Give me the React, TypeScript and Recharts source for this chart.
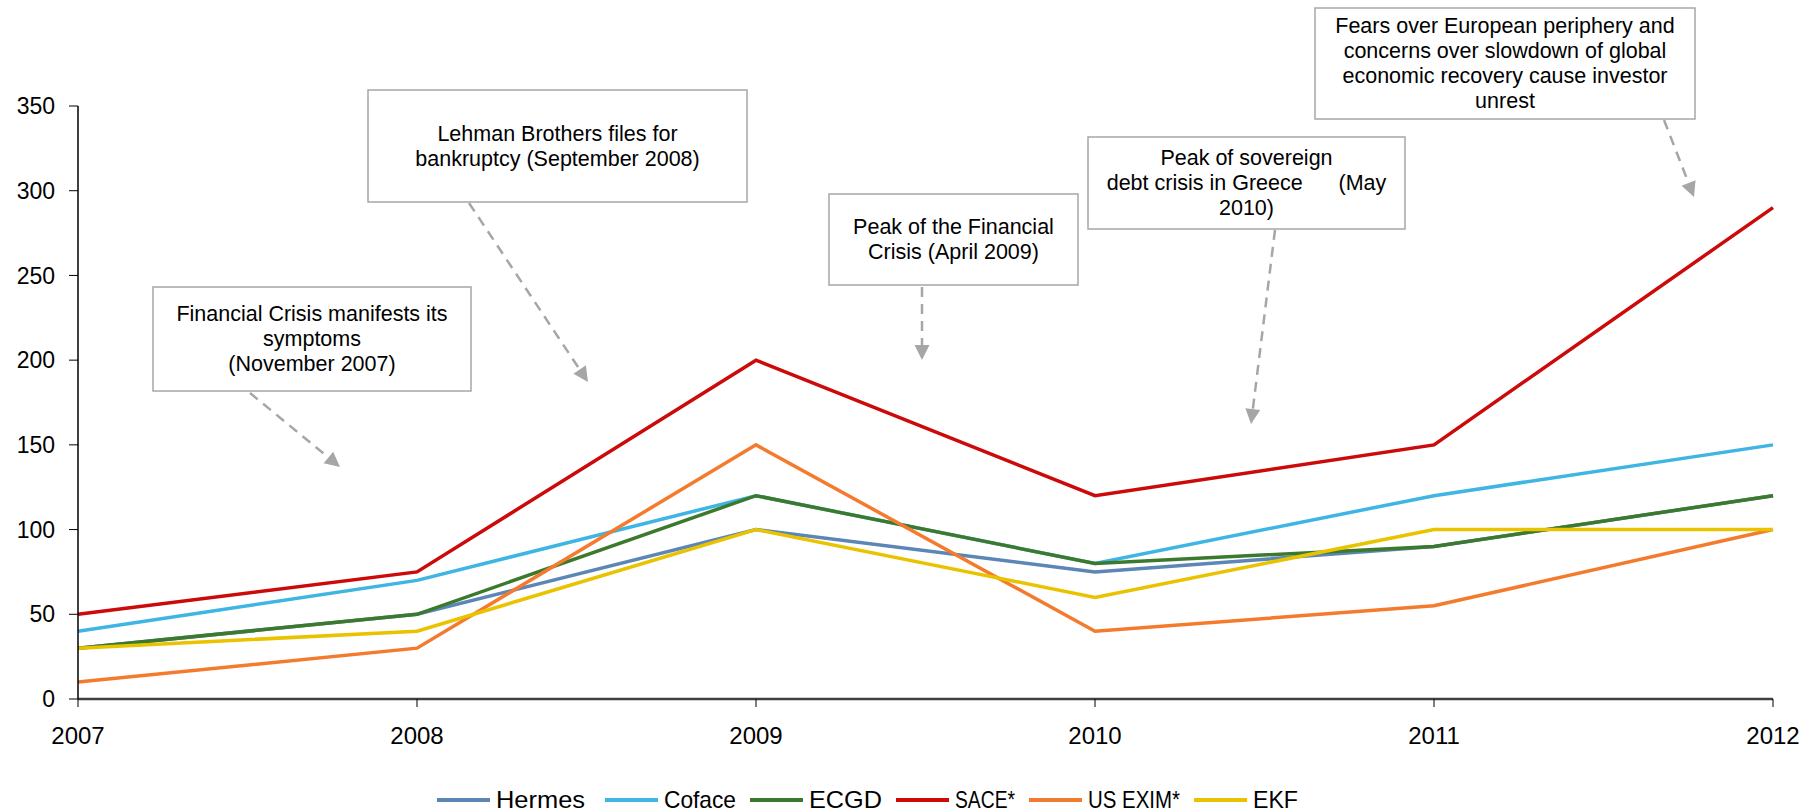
import React from "react";
import { LineChart, Line, XAxis, YAxis, Legend } from "recharts";

const years = ["2007", "2008", "2009", "2010", "2011", "2012"];
const hermes = [30, 50, 100, 75, 90, 120];
const coface = [40, 70, 120, 80, 120, 150];
const ecgd = [30, 50, 120, 80, 90, 120];
const sace = [50, 75, 200, 120, 150, 290];
const usExim = [10, 30, 150, 40, 55, 100];
const ekf = [30, 40, 100, 60, 100, 100];
const yTicks = [0, 50, 100, 150, 200, 250, 300, 350];

const series = [
  { key: "Hermes", values: hermes, color: "#5b86b6" },
  { key: "Coface", values: coface, color: "#3fb5e3" },
  { key: "ECGD", values: ecgd, color: "#3b7a2d" },
  { key: "SACE*", values: sace, color: "#cc0a0a" },
  { key: "US EXIM*", values: usExim, color: "#f47b2e" },
  { key: "EKF", values: ekf, color: "#e9c200" },
];

const data = years.map((year, i) => {
  const row: Record<string, string | number> = { year };
  series.forEach((s) => (row[s.key] = s.values[i]));
  return row;
});

// callout boxes and their dashed pointer arrows (pixel layout)
const notes = [
  {
    lines: ["Financial Crisis manifests its", "symptoms", "(November 2007)"],
    box: [153, 287, 318, 104],
    arrow: [250, 393, 340, 467],
  },
  {
    lines: ["Lehman Brothers files for", "bankruptcy (September 2008)"],
    box: [368, 90, 379, 112],
    arrow: [469, 203, 588, 382],
  },
  {
    lines: ["Peak of the Financial", "Crisis (April 2009)"],
    box: [829, 194, 249, 91],
    arrow: [922, 287, 922, 360],
  },
  {
    lines: ["Peak of sovereign", "debt crisis in Greece      (May", "2010)"],
    box: [1088, 137, 317, 92],
    arrow: [1275, 230, 1251, 424],
  },
  {
    lines: [
      "Fears over European periphery and",
      "concerns over slowdown of global",
      "economic recovery cause investor",
      "unrest",
    ],
    box: [1315, 8, 380, 111],
    arrow: [1664, 120, 1694, 197],
  },
];

const font = "'Liberation Sans', Arial, sans-serif";

// legend label widths — the original legend text is squeezed unevenly
const labelWidth: Record<string, number> = {
  Hermes: 89,
  Coface: 72,
  ECGD: 73,
  "SACE*": 60,
  "US EXIM*": 92,
  EKF: 45,
};

function Arrow({ a }: { a: number[] }) {
  const [x1, y1, x2, y2] = a;
  const ang = Math.atan2(y2 - y1, x2 - x1);
  const len = 15;
  const w = 7.5;
  const bx = x2 - len * Math.cos(ang);
  const by = y2 - len * Math.sin(ang);
  const px = -Math.sin(ang) * w;
  const py = Math.cos(ang) * w;
  return (
    <g>
      <line x1={x1} y1={y1} x2={bx} y2={by} stroke="#a6a6a6" strokeWidth={2.5} strokeDasharray="10 7" />
      <polygon points={`${x2},${y2} ${bx + px},${by + py} ${bx - px},${by - py}`} fill="#a6a6a6" />
    </g>
  );
}

function Notes() {
  return (
    <svg width={1817} height={811} style={{ position: "absolute", left: 0, top: 0, pointerEvents: "none" }}>
      {notes.map((n, i) => {
        const [x, y, w, h] = n.box;
        const lh = 25;
        const startY = y + h / 2 - ((n.lines.length - 1) * lh) / 2;
        return (
          <g key={i}>
            <rect x={x} y={y} width={w} height={h} fill="#fff" stroke="#a6a6a6" strokeWidth={1.5} />
            {n.lines.map((t, j) => (
              <text
                key={j}
                x={x + w / 2}
                y={startY + j * lh}
                textAnchor="middle"
                dominantBaseline="central"
                fontFamily={font}
                fontSize={21.5}
                fill="#000"
                style={{ whiteSpace: "pre" }}
              >
                {t}
              </text>
            ))}
            <Arrow a={n.arrow} />
          </g>
        );
      })}
    </svg>
  );
}

function LegendContent() {
  return (
    <div
      style={{
        height: 40,
        paddingTop: 18,
        boxSizing: "border-box",
        display: "flex",
        alignItems: "center",
        paddingLeft: 437,
      }}
    >
      {series.map((s, i) => (
        <div
          key={s.key}
          style={{ display: "flex", alignItems: "center", marginRight: i === 0 ? 20 : 14 }}
        >
          <div style={{ width: 53, height: 4, background: s.color, marginRight: 6 }} />
          <svg width={labelWidth[s.key]} height={26} style={{ overflow: "visible" }}>
            <text
              x={0}
              y={21}
              fontFamily={font}
              fontSize={24}
              fill="#000"
              textLength={labelWidth[s.key]}
              lengthAdjust="spacingAndGlyphs"
            >
              {s.key}
            </text>
          </svg>
        </div>
      ))}
    </div>
  );
}

export default function App() {
  return (
    <div style={{ position: "absolute", left: 0, top: 0, width: 1817, height: 811, background: "#fff" }}>
      <LineChart width={1817} height={811} data={data} margin={{ top: 106, right: 44, left: 0, bottom: 0 }}>
        <XAxis
          dataKey="year"
          height={72}
          tickSize={8}
          tickMargin={20}
          axisLine={{ stroke: "#404040", strokeWidth: 2.5 }}
          tickLine={{ stroke: "#000" }}
          tick={{ fontSize: 24, fill: "#000", fontFamily: font }}
        />
        <YAxis
          width={78}
          domain={[0, 350]}
          ticks={yTicks}
          tickSize={9}
          tickMargin={14}
          axisLine={{ stroke: "#000", strokeWidth: 1.5 }}
          tickLine={{ stroke: "#000" }}
          tick={{ fontSize: 23, fill: "#000", fontFamily: font }}
        />
        <Legend
          verticalAlign="bottom"
          height={40}
          content={<LegendContent />}
          wrapperStyle={{ left: 0, width: 1817 }}
        />
        {series.map((s) => (
          <Line
            key={s.key}
            type="linear"
            dataKey={s.key}
            stroke={s.color}
            strokeWidth={3.5}
            dot={false}
            activeDot={false}
            isAnimationActive={false}
          />
        ))}
      </LineChart>
      <Notes />
    </div>
  );
}
